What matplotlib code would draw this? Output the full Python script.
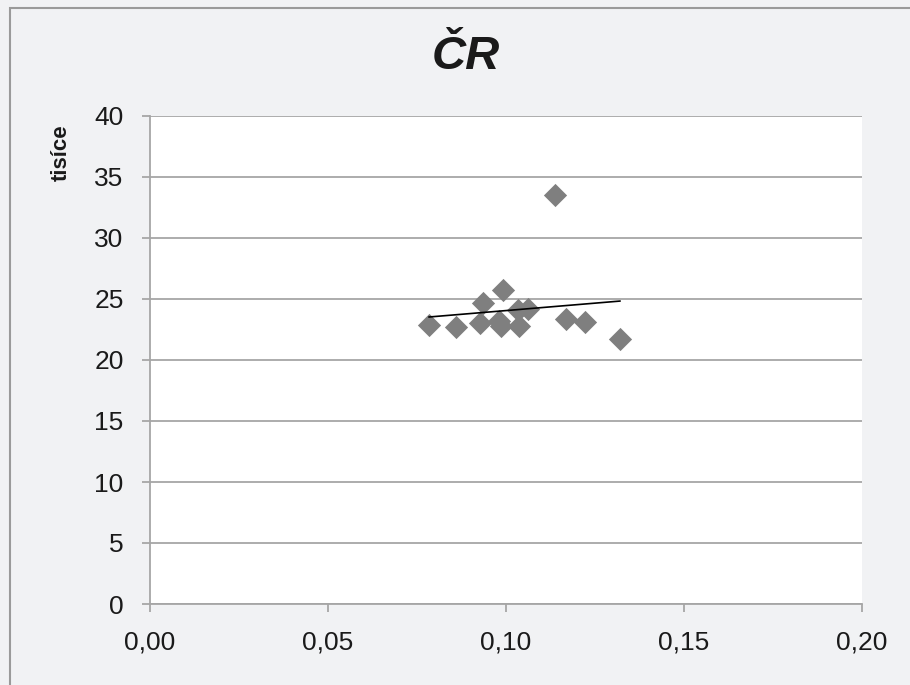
import numpy as np
import matplotlib
matplotlib.use("Agg")
import matplotlib.pyplot as plt
from matplotlib.patches import Rectangle
from matplotlib.ticker import FuncFormatter

# data (x = share, y = thousands)
x_vals = [0.0784, 0.0860, 0.0927, 0.0934, 0.0991, 0.0980, 0.0985,
          0.1035, 0.1063, 0.1037, 0.1138, 0.1169, 0.1222, 0.1320]
y_vals = [22.9, 22.7, 23.0, 24.7, 25.7, 23.2, 22.8,
          24.1, 24.2, 22.8, 33.5, 23.4, 23.1, 21.7]
x_ticks = [0.0, 0.05, 0.10, 0.15, 0.20]
y_ticks = [0, 5, 10, 15, 20, 25, 30, 35, 40]

plt.rcParams['font.family'] = ['Liberation Sans', 'DejaVu Sans']

fig = plt.figure(figsize=(9.1, 6.85), dpi=100)
fig.patch.set_facecolor("#f1f2f4")
# outer chart frame
fig.patches.append(Rectangle((10 / 910, -0.1), 1.1, 1.1 - 8 / 685, transform=fig.transFigure,
                             fill=False, edgecolor="#9a9a9a", linewidth=1.5))

ax = fig.add_axes([150 / 910, 1 - 604 / 685, 712 / 910, 488 / 685])
ax.set_facecolor("white")

ax.scatter(x_vals, y_vals, marker="D", s=140, color="#7f7f7f", zorder=3, linewidths=0)

# linear trendline over the data range
k, q = np.polyfit(x_vals, y_vals, 1)
xs = np.array([min(x_vals), max(x_vals)])
ax.plot(xs, k * xs + q, color="black", linewidth=1.2, zorder=4)

ax.set_xlim(0, 0.20)
ax.set_ylim(0, 40)
ax.set_xticks(x_ticks)
ax.set_yticks(y_ticks)
ax.xaxis.set_major_formatter(FuncFormatter(lambda v, p: f"{v:.2f}".replace(".", ",")))
ax.yaxis.grid(True, color="#a6a6a6", linewidth=1.3)
ax.set_axisbelow(True)
for s in ["top", "right"]:
    ax.spines[s].set_visible(False)
for s in ["left", "bottom"]:
    ax.spines[s].set_color("#a6a6a6")
    ax.spines[s].set_linewidth(1.3)
ax.tick_params(axis="both", colors="#a6a6a6", labelcolor="#1a1a1a", labelsize=19,
               length=6, width=1.3, direction="out")
ax.tick_params(axis="x", pad=13)
ax.tick_params(axis="y", pad=13)

fig.text(61 / 910, 1 - 153 / 685, "tisíce", rotation=90, ha="center", va="center",
         fontsize=16, fontweight="bold", color="#1a1a1a")
fig.text(466 / 910, 1 - 57 / 685, "ČR", ha="center", va="center",
         fontsize=34, fontweight="bold", fontstyle="italic", color="#1a1a1a")

fig.savefig("out.png", dpi=100, facecolor=fig.get_facecolor())
